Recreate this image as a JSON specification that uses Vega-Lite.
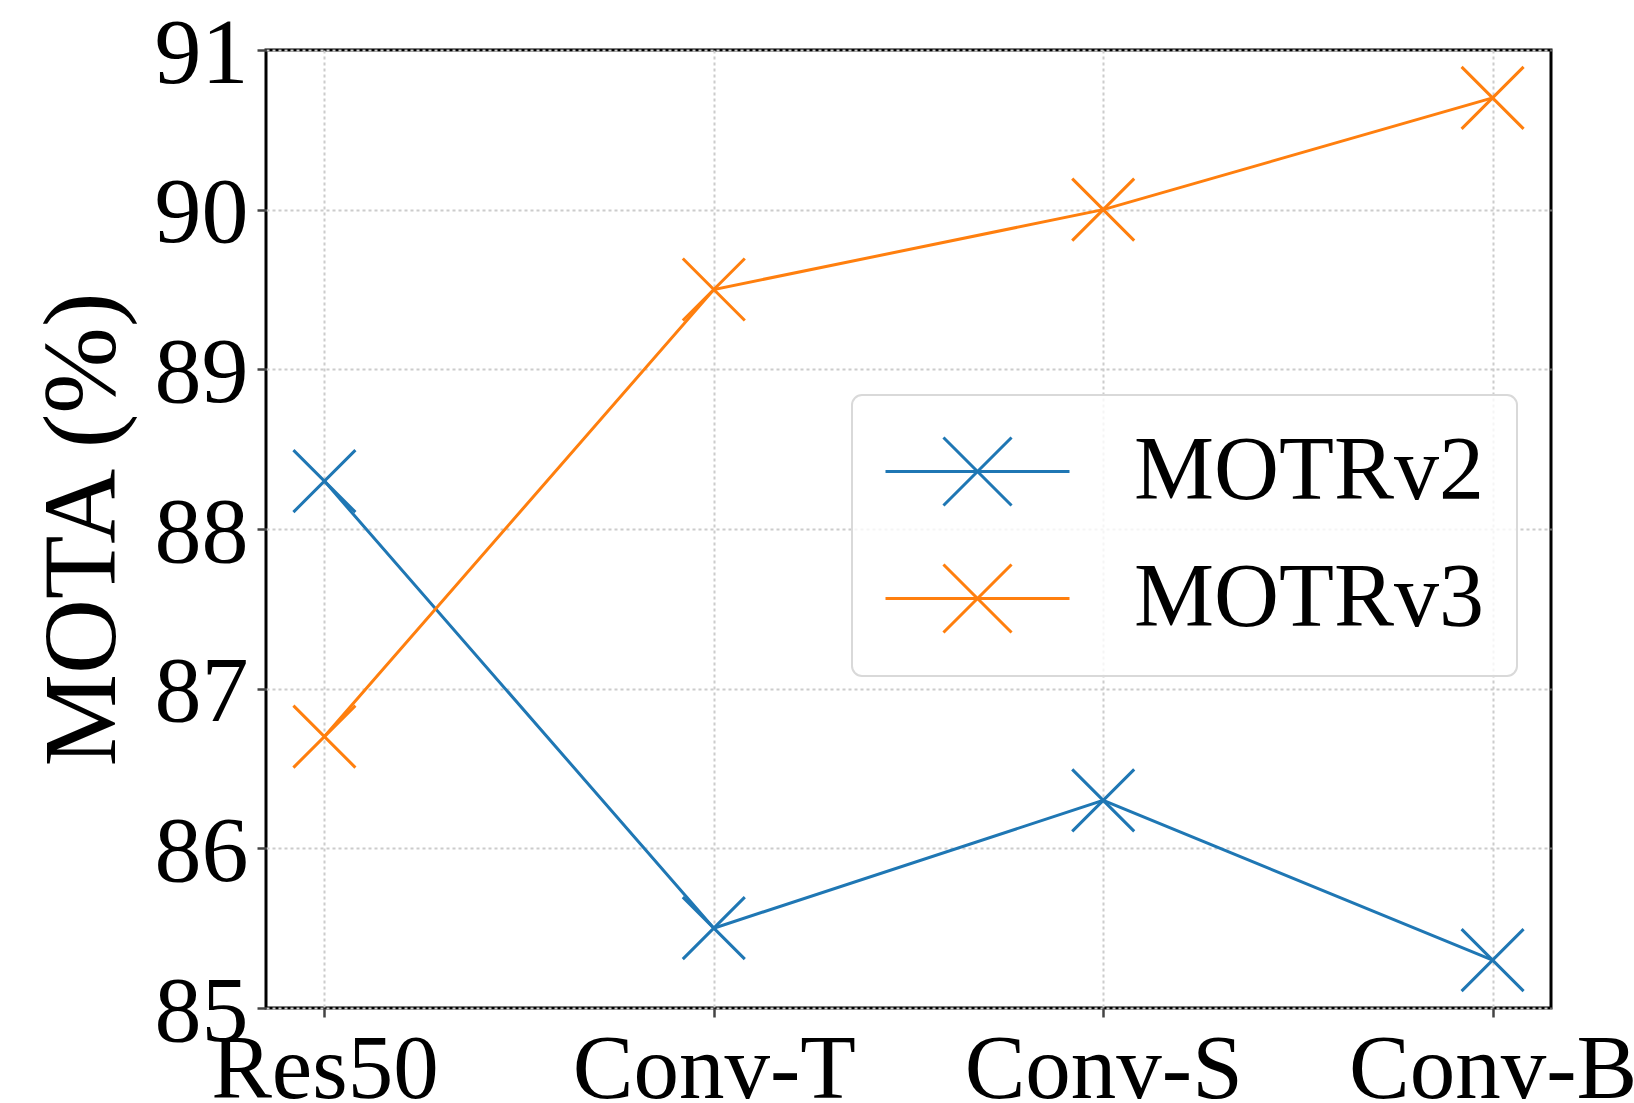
{
  "$schema": "https://vega.github.io/schema/vega-lite/v6.json",
  "width": 1285,
  "height": 958,
  "autosize": {"type": "none"},
  "padding": {"left": 266, "top": 50, "right": 83, "bottom": 95},
  "background": "white",
  "config": {
    "font": "Times New Roman, Liberation Serif, Times, serif",
    "view": {"stroke": "black", "strokeWidth": 3},
    "axis": {
      "domain": false,
      "grid": true,
      "gridColor": "#cccccc",
      "gridDash": [3, 3],
      "gridWidth": 2,
      "ticks": true,
      "tickColor": "#444444",
      "tickSize": 9,
      "tickWidth": 2.5,
      "labelFont": "Times New Roman, Liberation Serif, Times, serif",
      "labelColor": "black",
      "labelLimit": 1000,
      "labelOverlap": false,
      "labelBound": false,
      "labelFlush": false,
      "titleFont": "Times New Roman, Liberation Serif, Times, serif",
      "titleColor": "black",
      "titleFontWeight": "normal",
      "titleLimit": 2000
    },
    "legend": {"strokeWidth": 2}
  },
  "data": {
    "values": [
      {"backbone": "Res50", "method": "MOTRv2", "mota": 88.3},
      {"backbone": "Conv-T", "method": "MOTRv2", "mota": 85.5},
      {"backbone": "Conv-S", "method": "MOTRv2", "mota": 86.3},
      {"backbone": "Conv-B", "method": "MOTRv2", "mota": 85.3},
      {"backbone": "Res50", "method": "MOTRv3", "mota": 86.7},
      {"backbone": "Conv-T", "method": "MOTRv3", "mota": 89.5},
      {"backbone": "Conv-S", "method": "MOTRv3", "mota": 90.0},
      {"backbone": "Conv-B", "method": "MOTRv3", "mota": 90.7}
    ]
  },
  "mark": {
    "type": "line",
    "strokeWidth": 3,
    "point": {"shape": "M-1,-1L1,1M-1,1L1,-1", "filled": false, "size": 3844, "strokeWidth": 3}
  },
  "encoding": {
    "x": {
      "field": "backbone",
      "type": "ordinal",
      "sort": ["Res50", "Conv-T", "Conv-S", "Conv-B"],
      "scale": {"type": "point", "padding": 0.15},
      "axis": {"title": null, "labelAngle": 0, "labelBaseline": "top", "labelPadding": 8, "labelFontSize": 91}
    },
    "y": {
      "field": "mota",
      "type": "quantitative",
      "scale": {"domain": [85, 91], "nice": false, "zero": false},
      "axis": {
        "values": [85, 86, 87, 88, 89, 90, 91],
        "title": "MOTA (%)",
        "titleFontSize": 104,
        "titleX": -183,
        "titleY": 479,
        "titleAngle": 270,
        "titleAlign": "center",
        "titleBaseline": "middle",
        "labelFontSize": 94,
        "labelPadding": 9,
        "labelOffset": 4
      }
    },
    "color": {
      "field": "method",
      "type": "nominal",
      "scale": {"domain": ["MOTRv2", "MOTRv3"], "range": ["#1f77b4", "#ff7f0e"]},
      "legend": {
        "title": null,
        "orient": "none",
        "legendX": 586,
        "legendY": 345,
        "padding": 32,
        "cornerRadius": 10,
        "strokeColor": "#d9d9d9",
        "fillColor": "rgba(255,255,255,0.8)",
        "symbolType": "M-1,0H1M-0.37,-0.37L0.37,0.37M-0.37,0.37L0.37,-0.37",
        "symbolSize": 33856,
        "symbolStrokeWidth": 3,
        "labelFont": "Times New Roman, Liberation Serif, Times, serif",
        "labelFontSize": 90,
        "labelColor": "black",
        "labelLimit": 1000,
        "labelOffset": 63,
        "clipHeight": 89,
        "rowPadding": 36
      }
    }
  }
}
